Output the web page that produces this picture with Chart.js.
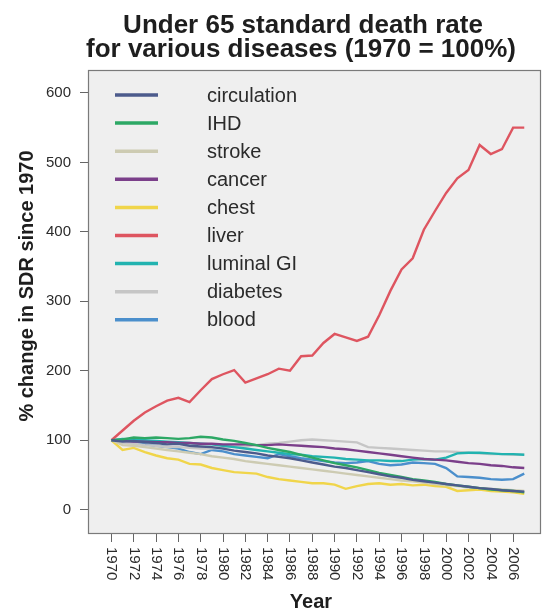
<!DOCTYPE html>
<html>
<head>
<meta charset="utf-8">
<title>Under 65 standard death rate</title>
<script src="https://cdn.jsdelivr.net/npm/chart.js@4.4.0/dist/chart.umd.min.js"></script>
<style>
  html, body { margin: 0; padding: 0; background: #fff; }
  #wrap { width: 544px; height: 612px; position: relative; }
</style>
</head>
<body>
<div id="wrap"><canvas id="chart" width="544" height="612"></canvas></div>
<script>
// Under 65 SDR by disease, indexed to 1970 = 100%

// ============================================================================
// Data
// ============================================================================

const years = [
  1970, 1971, 1972, 1973, 1974, 1975, 1976, 1977, 1978, 1979,
  1980, 1981, 1982, 1983, 1984, 1985, 1986, 1987, 1988, 1989,
  1990, 1991, 1992, 1993, 1994, 1995, 1996, 1997, 1998, 1999,
  2000, 2001, 2002, 2003, 2004, 2005, 2006, 2007
];

const xTickYears = [1970, 1972, 1974, 1976, 1978, 1980, 1982, 1984, 1986, 1988,
  1990, 1992, 1994, 1996, 1998, 2000, 2002, 2004, 2006];
const yTickValues = [0, 100, 200, 300, 400, 500, 600];

const seriesNames = ['circulation', 'IHD', 'stroke', 'cancer', 'chest', 'liver', 'luminal GI', 'diabetes', 'blood'];
const seriesColors = ['#4c5b8c', '#2da865', '#cdcbb2', '#7b3f8a', '#f0d54a', '#de5560', '#22b3b0', '#c6c6c6', '#4b8fcc'];

const circulation = [100, 98, 99, 97, 96, 94, 95, 92, 91, 90, 88, 85, 83, 81, 78, 76, 74, 71, 68, 65,
  62, 60, 57, 54, 51, 48, 46, 43, 41, 39, 37, 35, 33, 31, 30, 28, 27, 26];
const ihd = [100, 101, 104, 103, 104, 103, 102, 103, 105, 104, 101, 99, 96, 93, 89, 86, 83, 79, 75, 71,
  67, 64, 61, 57, 53, 50, 47, 44, 42, 40, 37, 35, 33, 31, 29, 28, 27, 25];
const stroke = [100, 93, 92, 90, 88, 86, 84, 82, 80, 77, 75, 73, 70, 68, 66, 64, 62, 60, 58, 56,
  54, 52, 50, 48, 46, 44, 42, 41, 39, 37, 35, 34, 32, 31, 30, 29, 28, 27];
const cancer = [100, 99, 98, 98, 97, 97, 96, 96, 95, 95, 94, 94, 94, 93, 93, 94, 93, 92, 91, 90,
  88, 87, 85, 83, 81, 79, 77, 75, 73, 72, 71, 69, 67, 66, 64, 63, 61, 60];
const chest = [100, 86, 89, 83, 78, 74, 72, 66, 65, 60, 57, 54, 53, 52, 47, 44, 42, 40, 38, 38,
  36, 30, 34, 37, 38, 36, 37, 35, 36, 34, 33, 27, 28, 29, 27, 26, 25, 23];
const liver = [100, 114, 128, 140, 149, 157, 161, 155, 172, 188, 195, 201, 183, 189, 195, 203, 200, 221, 222, 240,
  253, 248, 243, 249, 280, 315, 346, 362, 403, 430, 456, 477, 489, 525, 512, 519, 550, 550];
const luminalGI = [100, 102, 101, 100, 99, 98, 97, 96, 95, 94, 92, 90, 88, 86, 84, 82, 80, 79, 77, 76,
  75, 73, 72, 71, 71, 70, 70, 72, 73, 72, 75, 81, 82, 82, 81, 80, 80, 79];
const diabetes = [100, 96, 95, 93, 92, 90, 90, 89, 88, 88, 90, 92, 91, 93, 95, 96, 98, 100, 101, 100,
  99, 98, 97, 90, 89, 88, 87, 86, 85, 84, 84, 83, 82, 81, 80, 80, 79, 79];
const blood = [100, 97, 96, 94, 92, 90, 88, 83, 80, 86, 84, 80, 78, 76, 74, 80, 77, 74, 72, 70,
  68, 67, 68, 70, 66, 64, 65, 68, 67, 66, 60, 48, 47, 46, 44, 43, 44, 52];

const seriesValues = [circulation, ihd, stroke, cancer, chest, liver, luminalGI, diabetes, blood];

// ============================================================================
// Layout constants
// ============================================================================

const FONT = "'Liberation Sans', Arial, Helvetica, sans-serif";
const PLOT_BG = '#efefef';
const TEXT_COLOR = '#2b2b2b';

// ============================================================================
// Plugin: plot background, box, titles, rotated year labels, legend
// ============================================================================

const decorPlugin = {
  id: 'decor',
  beforeDraw(chart) {
    const { ctx, chartArea: a } = chart;
    ctx.save();
    ctx.fillStyle = PLOT_BG;
    ctx.fillRect(a.left, a.top, a.right - a.left, a.bottom - a.top);
    ctx.restore();
  },
  afterDraw(chart) {
    const { ctx, chartArea: a } = chart;
    const xScale = chart.scales.x;
    ctx.save();

    // box round the plot
    ctx.strokeStyle = '#7a7a7a';
    ctx.lineWidth = 1.2;
    ctx.strokeRect(a.left + 0.5, a.top + 0.5, a.right - a.left - 1, a.bottom - a.top - 1);

    // main title
    ctx.fillStyle = '#1e1e1e';
    ctx.font = `bold 26px ${FONT}`;
    ctx.textAlign = 'center';
    ctx.textBaseline = 'alphabetic';
    ctx.fillText('Under 65 standard death rate', 303, 33);
    ctx.fillText('for various diseases (1970 = 100%)', 301, 57);

    // axis titles
    ctx.font = `bold 20px ${FONT}`;
    ctx.fillText('Year', 311, 608);
    ctx.save();
    ctx.translate(27, 286);
    ctx.rotate(-Math.PI / 2);
    ctx.textBaseline = 'middle';
    ctx.fillText('% change in SDR since 1970', 0, 0);
    ctx.restore();

    // x tick labels, reading downwards
    ctx.font = `15px ${FONT}`;
    ctx.fillStyle = TEXT_COLOR;
    ctx.textAlign = 'left';
    ctx.textBaseline = 'middle';
    xTickYears.forEach((yr) => {
      const px = xScale.getPixelForValue(yr);
      ctx.save();
      ctx.translate(px, a.bottom + 13);
      ctx.rotate(Math.PI / 2);
      ctx.fillText(String(yr), 0, 0);
      ctx.restore();
    });

    // legend in top left of the plot
    ctx.font = `20px ${FONT}`;
    chart.data.datasets.forEach((ds, i) => {
      const y = 95 + i * 28.1;
      ctx.strokeStyle = ds.borderColor;
      ctx.lineWidth = 3.5;
      ctx.beginPath();
      ctx.moveTo(115, y);
      ctx.lineTo(158, y);
      ctx.stroke();
      ctx.fillStyle = TEXT_COLOR;
      ctx.fillText(ds.label, 207, y + 1);
    });

    ctx.restore();
  }
};

// ============================================================================
// Chart
// ============================================================================

function buildDatasets() {
  return seriesNames.map((name, i) => ({
    label: name,
    data: years.map((yr, j) => ({ x: yr, y: seriesValues[i][j] })),
    borderColor: seriesColors[i],
    backgroundColor: seriesColors[i],
    borderWidth: 2.4,
    pointRadius: 0,
    tension: 0,
    fill: false
  }));
}

function renderChart() {
  const canvas = document.getElementById('chart');

  new Chart(canvas, {
    type: 'line',
    data: { datasets: buildDatasets() },
    options: {
      responsive: false,
      animation: false,
      layout: { padding: { top: 70, right: 3, left: 0, bottom: 0 } },
      plugins: {
        legend: { display: false },
        title: { display: false },
        tooltip: { enabled: false }
      },
      scales: {
        x: {
          type: 'linear',
          min: 1967.9,
          max: 2008.5,
          border: { display: false },
          grid: { drawOnChartArea: false, drawTicks: true, tickLength: 8, color: '#666' },
          ticks: { display: false },
          afterBuildTicks: (scale) => {
            scale.ticks = xTickYears.map((v) => ({ value: v }));
          },
          afterFit: (scale) => {
            scale.height = 78;
          }
        },
        y: {
          type: 'linear',
          min: -35,
          max: 633,
          border: { display: false },
          grid: { drawOnChartArea: false, drawTicks: true, tickLength: 8, color: '#666' },
          ticks: {
            padding: 9,
            color: TEXT_COLOR,
            font: { family: FONT, size: 15 }
          },
          afterBuildTicks: (scale) => {
            scale.ticks = yTickValues.map((v) => ({ value: v }));
          },
          afterFit: (scale) => {
            scale.width = 88;
          }
        }
      }
    },
    plugins: [decorPlugin]
  });
}

renderChart();
</script>
</body>
</html>
